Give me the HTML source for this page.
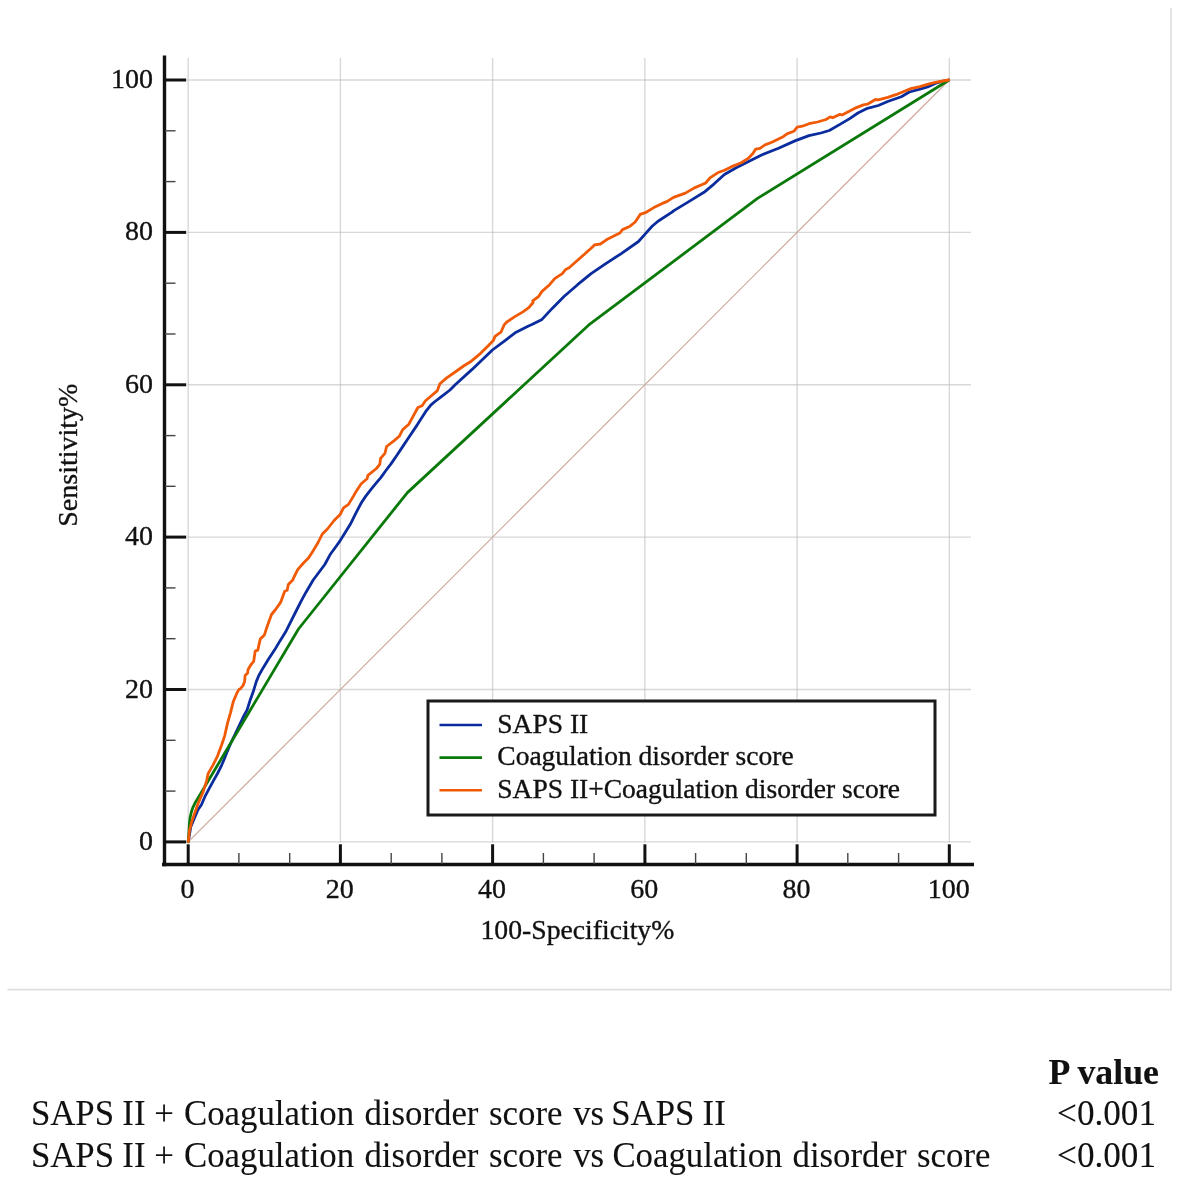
<!DOCTYPE html>
<html lang="en">
<head>
<meta charset="utf-8">
<title>ROC curves</title>
<style>
html,body{margin:0;padding:0;background:#fff;}
body{width:1181px;height:1184px;overflow:hidden;position:relative;font-family:"Liberation Serif","Times New Roman",serif;color:#111;}
svg{position:absolute;left:0;top:0;display:block;}
svg text{font-family:"Liberation Serif","Times New Roman",serif;fill:#111;}
.ch text{stroke:#111;stroke-width:0.35px;}
.tb text{stroke:#111;stroke-width:0.1px;}
</style>
</head>
<body>
<svg width="1181" height="1184" viewBox="0 0 1181 1184">
<g stroke="#dedede" stroke-width="1.6" fill="none">
<line x1="7.5" y1="989.6" x2="1171.7" y2="989.6"/>
<line x1="1171" y1="8" x2="1171" y2="990.3"/>
</g>
<g stroke="#b8b8b8" stroke-opacity="0.55" stroke-width="1.4" fill="none">
<line x1="188.2" y1="58" x2="188.2" y2="842.5"/><line x1="187.6" y1="841.9" x2="971" y2="841.9"/><line x1="340.4" y1="58" x2="340.4" y2="842.5"/><line x1="187.6" y1="689.5" x2="971" y2="689.5"/><line x1="492.6" y1="58" x2="492.6" y2="842.5"/><line x1="187.6" y1="537.1" x2="971" y2="537.1"/><line x1="644.9" y1="58" x2="644.9" y2="842.5"/><line x1="187.6" y1="384.8" x2="971" y2="384.8"/><line x1="797.1" y1="58" x2="797.1" y2="842.5"/><line x1="187.6" y1="232.4" x2="971" y2="232.4"/><line x1="949.3" y1="58" x2="949.3" y2="842.5"/><line x1="187.6" y1="80.0" x2="971" y2="80.0"/>
</g>
<line x1="188.2" y1="841.9" x2="949.3" y2="80.0" stroke="#cfa79f" stroke-width="1.2"/>
<g fill="none" stroke-width="2.8" stroke-linejoin="round" stroke-linecap="round">
<polyline stroke="#0a2c9c" points="188.3,841.6 190.8,826.8 194.4,818.2 198.0,809.6 201.3,805 205.3,795.8 209.4,788.2 213.5,780.6 217.5,773.5 221.6,765.3 224.6,758.2 227.2,751.6 230.0,745 233.5,737.5 238.5,727 243,717.5 247.1,709.8 250.2,700.0 253.2,691.8 256.3,681.6 258.8,675.5 263.4,667.4 268.4,659.3 274.5,650.1 280.6,639.9 285.7,631.8 290.8,621.7 295.9,611.5 301.0,601.3 306.0,592.2 313.2,580.0 324.8,564.5 330.0,554.8 335.1,547.7 340.2,540.6 345.2,532.5 350.3,524.3 356.4,512.1 361.5,502.5 365.6,496.4 370.6,489.8 375.7,483.7 380.8,477.6 385.9,470.5 391.0,463.9 397.1,455 402.5,446.9 407.9,438.8 417.4,424.6 425.6,411.7 431,404.9 435,401.5 441.1,396.8 450,390 455.2,384.7 472.1,369.4 492.4,350.0 506.0,339.8 516.1,332.2 528.0,326.2 531.9,324.5 542.0,319.4 552.2,308.4 564.0,296.5 577.6,284.7 591.1,273.7 604.7,264.4 621.6,253.3 638.5,241.5 645.3,233.9 652.1,226.2 658.0,221.2 672.4,211.9 673.5,210.9 688.8,201.6 704.0,192.3 714.2,183.8 724.4,174.5 736.2,167.7 748.1,161.8 761.6,155.0 778.5,148.3 795.5,140.6 809.0,135.6 820.9,133.0 829.3,130.5 839.5,124.6 849.7,118.6 857.9,113.0 867.4,108.3 878.3,105.5 887.7,101.5 901.3,96.7 909.4,92.0 920,89.1 927.6,86.9 935.2,83.4 941,81.6 948.7,80.0"/>
<polyline stroke="#0a790a" points="188.2,841.9 188.9,832.0 189.4,823.8 190.1,817.5 191.3,812.3 192.8,807.6 194.9,803.3 298.5,629.0 407.4,492.6 588.5,325.2 757.5,198.4 948.7,80.3"/>
<polyline stroke="#f05a05" points="188.3,841.6 189.4,831.1 191.5,822.5 194.4,813.9 198.0,803.8 203.0,792.3 206.6,780.8 208.1,773.6 213.1,764.9 217.4,756.3 221.7,744.8 224.6,736.1 227.5,723.2 230.4,713.1 233.3,701.6 236.9,693.0 239.0,689.4 240.0,689.2 243.0,685.7 244.6,681.6 245.1,675.5 247.6,673.0 248.1,669.4 251.2,664.3 253.7,661.3 255.2,651.1 257.8,650.1 260.3,638.9 264.4,634.9 267.4,625.7 271.5,614.5 275.6,609.5 280.6,602.4 284.7,591.2 287.2,590.2 288.3,584.6 292.8,580.0 293.5,578.1 297.7,569.6 303.7,562.8 308.7,557.7 313.0,551.0 318.1,542.5 322.3,534.0 327.4,529.0 334.1,520.5 340.1,514.6 343.5,507.8 348.5,504.4 353.6,495.9 356.1,491.4 361.2,483.7 367.1,478.7 367.9,475.3 376.4,468.5 379.8,464.3 380.6,458.3 384.9,453.3 386.6,446.5 394.2,440.6 399.3,436.3 402.7,429.6 408.6,424.5 412.8,416.9 417.9,407.5 422.1,405.8 425.5,400.8 431.4,395.7 437.4,390.6 439.9,383.8 446.7,377.9 455.2,372.0 463.6,366.0 470.4,361.8 480.6,353.3 489.0,344.9 493.3,340.6 495.0,336.4 500.9,332.2 504.3,324.6 506.8,322.0 514.4,316.9 522.9,311.9 528.8,307.6 533.1,302.5 532.7,300.8 538.6,296.5 542.0,291.4 549.6,284.7 554.7,278.7 562.3,273.7 565.7,269.4 569.1,267.7 575.9,261.8 584.4,254.2 591.1,248.3 594.5,244.9 600.4,244.0 606.4,239.8 614.8,235.6 619.9,233.0 622.5,229.6 630.1,226.2 635.2,222.0 640.2,214.4 645.3,212.7 653.8,207.6 662.3,203.4 666.8,201.6 673.5,197.4 685.4,193.1 693.9,188.1 705.7,183.0 710.0,177.9 717.6,172.8 724.4,170.3 731.1,166.9 741.3,162.7 748.1,158.4 753.1,153.3 755.7,149.1 759.9,148.3 765.0,144.9 771.8,142.3 778.5,139.0 783.6,136.4 787.0,133.9 793.8,131.3 797.2,127.1 802.3,126.2 809.0,123.7 817.5,122.0 826.0,119.5 830.2,116.9 832.7,117.8 839.5,114.4 842.0,114.9 849.7,111.0 856.4,107.6 863.4,104.9 867.4,104.2 875.5,99.5 878.3,99.9 887.7,97.4 895.9,94.7 902.6,92.0 910.8,88.6 920,86.6 925.7,84.9 930.2,83.6 935.5,82.4 940.3,81.5 948.7,80.0"/>
</g>
<g stroke="#111" stroke-width="3.4" fill="none">
<line x1="164.5" y1="55.5" x2="164.5" y2="866.2"/>
<line x1="162" y1="864.5" x2="974" y2="864.5"/>
</g>
<g stroke="#111" stroke-width="3" fill="none">
<line x1="164.5" y1="841.9" x2="186.2" y2="841.9"/><line x1="188.2" y1="844.3" x2="188.2" y2="864.5"/><line x1="164.5" y1="689.5" x2="186.2" y2="689.5"/><line x1="340.4" y1="844.3" x2="340.4" y2="864.5"/><line x1="164.5" y1="537.1" x2="186.2" y2="537.1"/><line x1="492.6" y1="844.3" x2="492.6" y2="864.5"/><line x1="164.5" y1="384.8" x2="186.2" y2="384.8"/><line x1="644.9" y1="844.3" x2="644.9" y2="864.5"/><line x1="164.5" y1="232.4" x2="186.2" y2="232.4"/><line x1="797.1" y1="844.3" x2="797.1" y2="864.5"/><line x1="164.5" y1="80.0" x2="186.2" y2="80.0"/><line x1="949.3" y1="844.3" x2="949.3" y2="864.5"/>
</g>
<g stroke="#444" stroke-width="1.4" fill="none">
<line x1="165" y1="791.1" x2="175.5" y2="791.1"/><line x1="238.9" y1="853" x2="238.9" y2="864"/><line x1="165" y1="740.3" x2="175.5" y2="740.3"/><line x1="289.7" y1="853" x2="289.7" y2="864"/><line x1="165" y1="638.7" x2="175.5" y2="638.7"/><line x1="391.2" y1="853" x2="391.2" y2="864"/><line x1="165" y1="587.9" x2="175.5" y2="587.9"/><line x1="441.9" y1="853" x2="441.9" y2="864"/><line x1="165" y1="486.3" x2="175.5" y2="486.3"/><line x1="543.4" y1="853" x2="543.4" y2="864"/><line x1="165" y1="435.6" x2="175.5" y2="435.6"/><line x1="594.1" y1="853" x2="594.1" y2="864"/><line x1="165" y1="334.0" x2="175.5" y2="334.0"/><line x1="695.6" y1="853" x2="695.6" y2="864"/><line x1="165" y1="283.2" x2="175.5" y2="283.2"/><line x1="746.3" y1="853" x2="746.3" y2="864"/><line x1="165" y1="181.6" x2="175.5" y2="181.6"/><line x1="847.8" y1="853" x2="847.8" y2="864"/><line x1="165" y1="130.8" x2="175.5" y2="130.8"/><line x1="898.6" y1="853" x2="898.6" y2="864"/>
</g>
<g class="ch" font-size="28">
<text x="153.1" y="849.9" text-anchor="end">0</text><text x="153.1" y="697.5" text-anchor="end">20</text><text x="153.1" y="545.1" text-anchor="end">40</text><text x="153.1" y="392.8" text-anchor="end">60</text><text x="153.1" y="240.4" text-anchor="end">80</text><text x="153.1" y="88.0" text-anchor="end">100</text>
<text x="187.6" y="897.7" text-anchor="middle">0</text><text x="339.8" y="897.7" text-anchor="middle">20</text><text x="492.0" y="897.7" text-anchor="middle">40</text><text x="644.3" y="897.7" text-anchor="middle">60</text><text x="796.5" y="897.7" text-anchor="middle">80</text><text x="948.7" y="897.7" text-anchor="middle">100</text>
<text x="577.4" y="939.3" text-anchor="middle" font-size="27.7">100-Specificity%</text>
<text transform="translate(76.5,455.2) rotate(-90)" text-anchor="middle">Sensitivity%</text>
</g>
<rect x="428" y="701" width="507" height="114" fill="#fff" stroke="#1a1a1a" stroke-width="3"/>
<g stroke-width="2.6" fill="none">
<line x1="439.5" y1="725" x2="482" y2="725" stroke="#0a2c9c"/>
<line x1="439.5" y1="757.6" x2="482" y2="757.6" stroke="#0a790a"/>
<line x1="439.5" y1="790.3" x2="482" y2="790.3" stroke="#f05a05"/>
</g>
<g class="ch" font-size="27.5">
<text x="497.3" y="732.8">SAPS II</text>
<text x="497.3" y="765.4">Coagulation disorder score</text>
<text x="497.3" y="797.9">SAPS II+Coagulation disorder score</text>
</g>
<g class="tb" font-size="35.15">
<text x="1159" y="1083.8" text-anchor="end" font-weight="bold" font-size="35.8">P value</text>
<text y="1125" font-size="34.8"><tspan x="30.9">SAPS </tspan><tspan x="122.3">II </tspan><tspan x="154.2">+ </tspan><tspan x="184">Coagulation </tspan><tspan x="364.4">disorder </tspan><tspan x="489">score </tspan><tspan x="573.2">vs </tspan><tspan x="611.2">SAPS </tspan><tspan x="702.6">II</tspan></text>
<text x="1156" y="1125.4" text-anchor="end">&lt;0.001</text>
<text y="1166.5" font-size="34.8"><tspan x="30.9">SAPS </tspan><tspan x="122.3">II </tspan><tspan x="154.2">+ </tspan><tspan x="184">Coagulation </tspan><tspan x="364.4">disorder </tspan><tspan x="489">score </tspan><tspan x="573.2">vs </tspan><tspan x="612.4">Coagulation </tspan><tspan x="792.5">disorder </tspan><tspan x="917">score</tspan></text>
<text x="1156" y="1167" text-anchor="end">&lt;0.001</text>
</g>
</svg>
</body>
</html>
